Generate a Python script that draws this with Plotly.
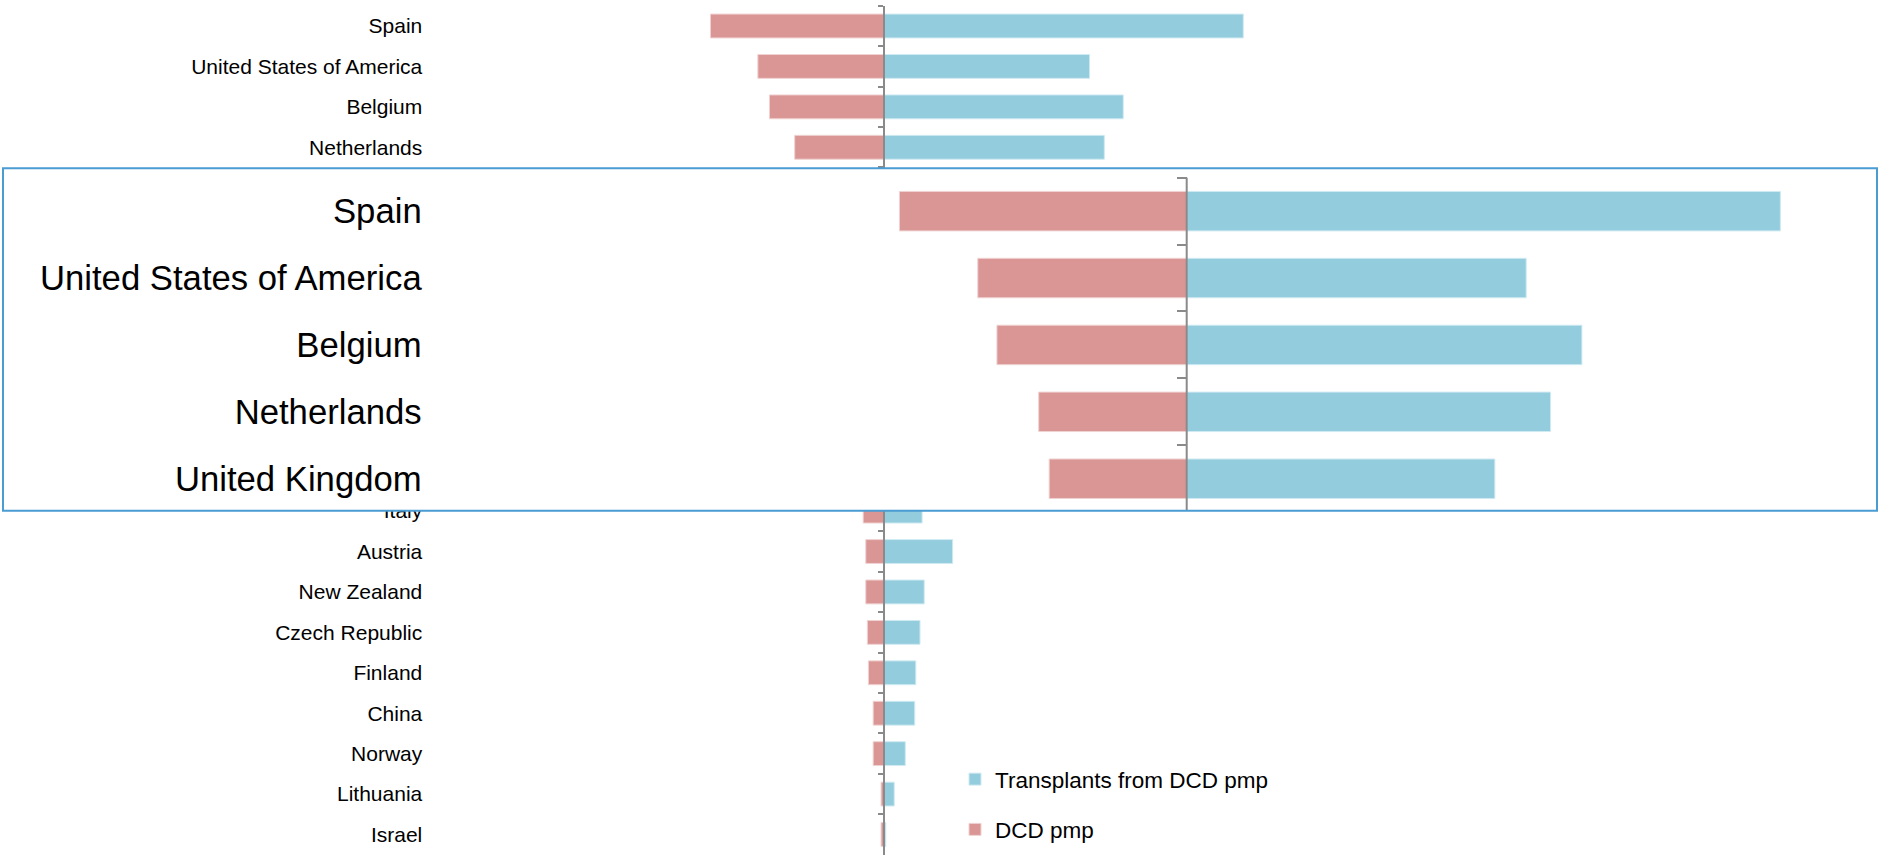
import plotly.graph_objects as go

# Countries ordered by DCD donors per million population (pmp)
countries = [
    "Spain", "United States of America", "Belgium", "Netherlands", "United Kingdom",
    "Canada", "Australia", "Switzerland", "Ireland", "France", "Portugal", "Latvia",
    "Italy", "Austria", "New Zealand", "Czech Republic", "Finland", "China", "Norway",
    "Lithuania", "Israel",
]
dcd_pmp = [16.5, 12.0, 10.9, 8.5, 7.9, 6.6, 5.8, 5.0, 4.0, 3.3, 2.6, 2.2,
           2.0, 1.75, 1.75, 1.6, 1.5, 1.05, 1.05, 0.3, 0.3]
transplants_dcd_pmp = [34.1, 19.5, 22.7, 20.9, 17.7, 13.0, 11.5, 9.5, 7.0, 6.3, 4.2, 3.5,
                       3.6, 6.5, 3.8, 3.4, 3.0, 2.9, 2.0, 0.95, 0.15]

# Magnified view of the top rows
inset_rows = 5

BLUE = "#93CCDD"
RED = "#D99694"
AXIS_GREY = "#8a8a8a"
FONT = "Liberation Sans, Arial, Helvetica, sans-serif"

W, H = 1879, 859

# axis ranges / domains
main_xrange = [-83.97, 94.47]
main_xdomain = [0.0, 1.0]
main_ydomain = [0.005, 0.99325]
inset_xrange = [-67.99, 39.65]
inset_xdomain = [3 / W, 1877 / W]
inset_ydomain = [(H - 510.7) / H, (H - 168.3) / H]
inset_yrange = [inset_rows - 0.522, -0.6405]


def zero_position(xrange, xdomain):
    frac = (0 - xrange[0]) / (xrange[1] - xrange[0])
    return xdomain[0] + frac * (xdomain[1] - xdomain[0])


def row_centre(i, n, ydomain):
    # paper y of a category row on a reversed category axis
    return ydomain[1] - (i + 0.5) / n * (ydomain[1] - ydomain[0])


# Main-axis labels whose rows sit behind the magnified view are left blank
n_rows = len(countries)
main_ticktext = [
    "" if inset_ydomain[0] < row_centre(i, n_rows, main_ydomain) < inset_ydomain[1] else c
    for i, c in enumerate(countries)
]

fig = go.Figure()

for xa, ya, show in (("x", "y", True), ("x2", "y2", False)):
    fig.add_trace(go.Bar(
        y=countries, x=transplants_dcd_pmp, orientation="h",
        name="Transplants from DCD pmp", legendgroup="tx",
        marker=dict(color=BLUE, line=dict(color="#cfeaf2", width=1)),
        xaxis=xa, yaxis=ya, showlegend=show,
        hovertemplate="%{y}: %{x}<extra>Transplants from DCD pmp</extra>",
    ))
    fig.add_trace(go.Bar(
        y=countries, x=[-v for v in dcd_pmp], orientation="h",
        name="DCD pmp", legendgroup="dcd", customdata=dcd_pmp,
        marker=dict(color=RED, line=dict(color="#f0d2d2", width=1)),
        xaxis=xa, yaxis=ya, showlegend=show,
        hovertemplate="%{y}: %{customdata}<extra>DCD pmp</extra>",
    ))

hidden_x = dict(showticklabels=False, showline=False, showgrid=False,
                zeroline=False, ticks="", fixedrange=True)

fig.update_layout(
    width=W, height=H,
    margin=dict(l=0, r=0, t=0, b=0),
    paper_bgcolor="white", plot_bgcolor="white",
    barmode="relative", bargap=0.41,
    font=dict(family=FONT, color="#000000"),
    xaxis=dict(domain=main_xdomain, range=main_xrange, anchor="y", **hidden_x),
    yaxis=dict(
        domain=main_ydomain, type="category",
        categoryorder="array", categoryarray=countries,
        tickmode="array", tickvals=countries, ticktext=main_ticktext,
        range=[n_rows - 0.5, -0.5],
        anchor="free", position=zero_position(main_xrange, main_xdomain),
        showline=True, linecolor=AXIS_GREY, linewidth=1.5,
        ticks="outside", ticklen=5, tickwidth=1.5, tickcolor=AXIS_GREY,
        tickson="boundaries", ticklabelstandoff=457,
        tickfont=dict(size=21, color="#000000"),
        showgrid=False, zeroline=False, fixedrange=True,
    ),
    xaxis2=dict(domain=inset_xdomain, range=inset_xrange, anchor="y2", **hidden_x),
    yaxis2=dict(
        domain=inset_ydomain, type="category",
        categoryorder="array", categoryarray=countries,
        range=inset_yrange,
        anchor="free", position=zero_position(inset_xrange, inset_xdomain),
        showline=False,
        ticks="outside", ticklen=10, tickwidth=2, tickcolor=AXIS_GREY,
        tickson="boundaries", ticklabelstandoff=765,
        tickfont=dict(size=34.7, color="#000000"),
        showgrid=False, zeroline=False, fixedrange=True,
    ),
    legend=dict(
        x=955 / W, y=(H - 758) / H, xanchor="left", yanchor="top",
        font=dict(size=22.5, color="#000000"),
        traceorder="grouped", tracegroupgap=18,
        bgcolor="rgba(0,0,0,0)", borderwidth=0,
    ),
    shapes=[
        # zero line of the magnified view
        dict(type="line", xref="x2", yref="y2", x0=0, x1=0,
             y0=-0.5, y1=inset_rows - 0.5,
             line=dict(color=AXIS_GREY, width=2), layer="above"),
        # frame around the magnified view
        dict(type="rect", xref="paper", yref="paper",
             x0=inset_xdomain[0], x1=inset_xdomain[1],
             y0=inset_ydomain[0], y1=inset_ydomain[1],
             line=dict(color="#4A9CD3", width=2),
             fillcolor="rgba(0,0,0,0)", layer="above"),
    ],
)

fig.write_html("out.html")
